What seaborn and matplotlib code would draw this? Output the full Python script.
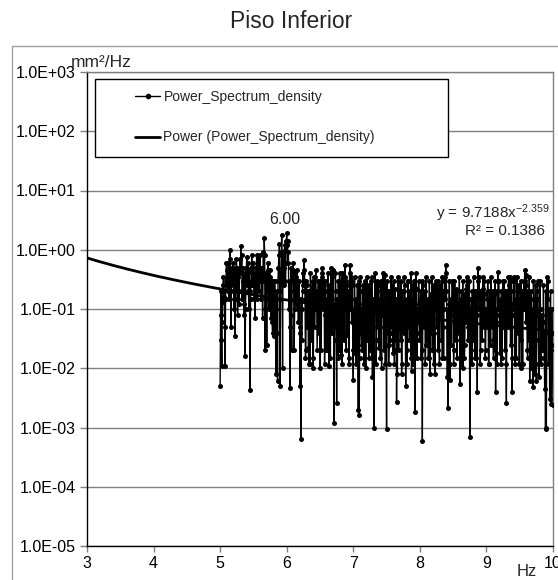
import numpy as np
import pandas as pd
import matplotlib
matplotlib.use("Agg")
import matplotlib.pyplot as plt
import seaborn as sns
from matplotlib.lines import Line2D
from matplotlib.patches import Rectangle
from matplotlib.ticker import FixedLocator, FuncFormatter, NullLocator

# ---------------- data ----------------
title = "Piso Inferior"
series_label = "Power_Spectrum_density"
trend_label = "Power (Power_Spectrum_density)"
y_unit = "mm²/Hz"
x_unit = "Hz"

freq_start = 5.0       # Hz
freq_step = 0.00625    # Hz (spectral resolution)

# PSD values on the even bins (5.0000, 5.0125, ... 10.0)
psd_even = [
    0.005, 0.2, 0.011, 0.13, 0.35, 0.16, 0.011, 0.3, 0.45, 0.2, 0.6, 0.35, 1.0, 0.05, 0.5, 0.25, 0.4, 0.15, 0.035, 0.3,
    0.5, 0.08, 0.45, 0.2, 0.7, 1.15, 0.8, 0.3, 0.2, 0.08, 0.016, 0.3, 0.75, 0.4, 0.2, 0.45, 0.0043, 0.25, 0.8, 0.5,
    0.6, 0.15, 0.07, 0.25, 0.8, 0.35, 0.6, 0.2, 0.8, 0.5, 0.3, 0.07, 0.9, 1.6, 0.02, 0.4, 0.025, 0.3, 0.45, 0.2,
    0.35, 0.07, 0.25, 0.04, 0.3, 0.035, 0.15, 0.008, 0.2, 0.006, 0.5, 1.25, 0.005, 0.4, 1.8, 0.01, 0.8, 0.5, 1.2, 0.6,
    1.9, 1.4, 0.9, 0.3, 0.0046, 0.5, 0.02, 0.3, 0.45, 0.02, 0.25, 0.12, 0.45, 0.1, 0.06, 0.3, 0.005, 0.00063, 0.03, 0.2,
    0.25, 0.68, 0.15, 0.02, 0.25, 0.1, 0.022, 0.2, 0.012, 0.15, 0.06, 0.3, 0.01, 0.35, 0.12, 0.45, 0.2, 0.05, 0.3, 0.1,
    0.01, 0.25, 0.4, 0.5, 0.15, 0.3, 0.08, 0.2, 0.04, 0.02, 0.15, 0.011, 0.1, 0.5, 0.35, 0.15, 0.05, 0.0012, 0.08, 0.2,
    0.0026, 0.15, 0.3, 0.02, 0.12, 0.017, 0.4, 0.25, 0.35, 0.03, 0.55, 0.3, 0.15, 0.036, 0.2, 0.015, 0.55, 0.35, 0.06, 0.25,
    0.0063, 0.03, 0.018, 0.15, 0.04, 0.25, 0.002, 0.0016, 0.1, 0.2, 0.025, 0.02, 0.12, 0.015, 0.3, 0.01, 0.15, 0.03, 0.2, 0.25,
    0.1, 0.3, 0.015, 0.007, 0.15, 0.001, 0.4, 0.25, 0.03, 0.2, 0.1, 0.022, 0.15, 0.3, 0.01, 0.08, 0.2, 0.02, 0.37, 0.12,
    0.00095, 0.1, 0.2, 0.025, 0.15, 0.04, 0.1, 0.25, 0.018, 0.02, 0.22, 0.07, 0.0027, 0.008, 0.15, 0.05, 0.29, 0.03, 0.008, 0.2,
    0.1, 0.2, 0.25, 0.005, 0.15, 0.02, 0.3, 0.12, 0.2, 0.015, 0.009, 0.15, 0.25, 0.03, 0.0018, 0.1, 0.22, 0.04, 0.06, 0.12,
    0.04, 0.2, 0.02, 0.0006, 0.25, 0.15, 0.2, 0.025, 0.12, 0.03, 0.015, 0.08, 0.008, 0.18, 0.06, 0.02, 0.12, 0.25, 0.008, 0.3,
    0.15, 0.22, 0.02, 0.1, 0.25, 0.18, 0.03, 0.015, 0.2, 0.1, 0.35, 0.55, 0.2, 0.007, 0.0021, 0.12, 0.0063, 0.15, 0.025, 0.3,
    0.25, 0.02, 0.18, 0.03, 0.22, 0.2, 0.12, 0.04, 0.0055, 0.15, 0.2, 0.02, 0.01, 0.18, 0.025, 0.22, 0.06, 0.25, 0.03, 0.15,
    0.0007, 0.02, 0.15, 0.2, 0.03, 0.12, 0.015, 0.1, 0.2, 0.004, 0.5, 0.35, 0.2, 0.02, 0.15, 0.03, 0.22, 0.1, 0.18, 0.02,
    0.1, 0.15, 0.2, 0.012, 0.2, 0.025, 0.15, 0.1, 0.03, 0.18, 0.02, 0.004, 0.1, 0.2, 0.42, 0.3, 0.018, 0.15, 0.2, 0.015,
    0.12, 0.2, 0.02, 0.15, 0.0026, 0.2, 0.1, 0.25, 0.35, 0.025, 0.2, 0.004, 0.12, 0.35, 0.3, 0.15, 0.015, 0.2, 0.04, 0.25,
    0.15, 0.03, 0.01, 0.2, 0.12, 0.3, 0.45, 0.25, 0.38, 0.02, 0.2, 0.03, 0.006, 0.01, 0.2, 0.05, 0.0048, 0.1, 0.008, 0.25,
    0.006, 0.2, 0.15, 0.007, 0.05, 0.1, 0.015, 0.08, 0.02, 0.06, 0.0045, 0.001, 0.00095, 0.35, 0.3, 0.04, 0.003, 0.2, 0.0025, 0.025,
    0.0024,
]

# PSD values on the odd bins (5.00625, 5.01875, ... 9.99375)
psd_odd = [
    0.08, 0.03, 0.06, 0.25, 0.2, 0.05, 0.15, 0.6, 0.25, 0.4, 0.15, 0.7, 0.3, 0.2, 0.3, 0.6, 0.1, 0.5, 0.15, 0.7,
    0.2, 0.35, 0.12, 0.5, 0.4, 0.5, 0.15, 0.5, 0.12, 0.4, 0.1, 0.5, 0.25, 0.6, 0.1, 0.2, 0.15, 0.5, 0.3, 0.25,
    0.3, 0.4, 0.3, 0.5, 0.15, 0.7, 0.4, 0.5, 0.3, 0.15, 0.5, 0.4, 0.3, 0.8, 0.1, 0.15, 0.2, 0.6, 0.1, 0.45,
    0.15, 0.3, 0.06, 0.2, 0.1, 0.3, 0.05, 0.1, 0.04, 0.3, 0.8, 0.2, 0.15, 0.9, 0.3, 0.5, 0.25, 1.0, 0.3, 1.4,
    1.2, 0.6, 0.1, 0.05, 0.2, 0.08, 0.4, 0.6, 0.15, 0.1, 0.4, 0.35, 0.2, 0.3, 0.15, 0.05, 0.04, 0.15, 0.1, 0.4,
    0.45, 0.3, 0.015, 0.3, 0.05, 0.2, 0.012, 0.06, 0.4, 0.03, 0.2, 0.015, 0.2, 0.05, 0.35, 0.1, 0.02, 0.15, 0.04, 0.3,
    0.15, 0.02, 0.35, 0.1, 0.25, 0.012, 0.3, 0.02, 0.15, 0.4, 0.04, 0.25, 0.015, 0.1, 0.04, 0.45, 0.12, 0.03, 0.4, 0.05,
    0.1, 0.015, 0.12, 0.4, 0.06, 0.2, 0.012, 0.04, 0.12, 0.35, 0.1, 0.02, 0.25, 0.1, 0.012, 0.4, 0.1, 0.15, 0.3, 0.02,
    0.1, 0.35, 0.06, 0.012, 0.12, 0.05, 0.3, 0.015, 0.35, 0.04, 0.1, 0.25, 0.012, 0.2, 0.06, 0.1, 0.35, 0.1, 0.015, 0.1,
    0.02, 0.08, 0.35, 0.05, 0.015, 0.12, 0.1, 0.012, 0.3, 0.05, 0.25, 0.1, 0.015, 0.1, 0.2, 0.4, 0.05, 0.15, 0.012, 0.025,
    0.3, 0.04, 0.012, 0.2, 0.03, 0.35, 0.05, 0.1, 0.3, 0.012, 0.03, 0.15, 0.03, 0.35, 0.02, 0.15, 0.1, 0.3, 0.012, 0.05,
    0.04, 0.35, 0.06, 0.1, 0.012, 0.3, 0.05, 0.03, 0.08, 0.4, 0.08, 0.012, 0.1, 0.3, 0.05, 0.4, 0.015, 0.1, 0.3, 0.03,
    0.12, 0.015, 0.3, 0.1, 0.05, 0.1, 0.012, 0.35, 0.06, 0.15, 0.015, 0.3, 0.1, 0.04, 0.35, 0.1, 0.012, 0.04, 0.15, 0.1,
    0.05, 0.3, 0.2, 0.012, 0.08, 0.1, 0.35, 0.05, 0.015, 0.3, 0.15, 0.4, 0.05, 0.1, 0.06, 0.3, 0.012, 0.08, 0.15, 0.1,
    0.012, 0.3, 0.08, 0.2, 0.015, 0.1, 0.05, 0.35, 0.06, 0.012, 0.1, 0.3, 0.08, 0.015, 0.15, 0.08, 0.35, 0.05, 0.1, 0.3,
    0.05, 0.1, 0.012, 0.1, 0.35, 0.05, 0.2, 0.015, 0.08, 0.3, 0.15, 0.1, 0.012, 0.2, 0.08, 0.35, 0.05, 0.3, 0.015, 0.1,
    0.05, 0.3, 0.012, 0.1, 0.1, 0.35, 0.05, 0.2, 0.015, 0.05, 0.3, 0.06, 0.012, 0.1, 0.3, 0.08, 0.1, 0.012, 0.06, 0.3,
    0.05, 0.3, 0.2, 0.012, 0.08, 0.05, 0.35, 0.06, 0.12, 0.3, 0.015, 0.08, 0.3, 0.1, 0.012, 0.05, 0.35, 0.08, 0.15, 0.012,
    0.05, 0.3, 0.15, 0.012, 0.2, 0.1, 0.3, 0.06, 0.15, 0.015, 0.05, 0.35, 0.04, 0.15, 0.012, 0.1, 0.3, 0.15, 0.1, 0.012,
    0.08, 0.3, 0.03, 0.1, 0.3, 0.012, 0.06, 0.02, 0.25, 0.015, 0.04, 0.2, 0.1, 0.15, 0.012, 0.1, 0.04, 0.02, 0.1, 0.04,
]

# Power-law trend line as printed on the chart
trend_coef = 9.7188
trend_exp = -2.359
r_squared = 0.1386
trend_range = [3.0, 10.0]

peak_label = "6.00"
peak_freq = 6.00
peak_value = 1.9

x_ticks = [3, 4, 5, 6, 7, 8, 9, 10]
y_ticks = [1e-5, 1e-4, 1e-3, 1e-2, 1e-1, 1e0, 1e1, 1e2, 1e3]

# ---------------- style ----------------
sns.set_theme(style="ticks")
plt.rcParams["font.family"] = ["Liberation Sans", "DejaVu Sans"]
plt.rcParams["mathtext.fontset"] = "custom"
plt.rcParams["mathtext.rm"] = "Liberation Sans"
plt.rcParams["mathtext.it"] = "Liberation Sans:italic"

W, H = 558, 580
fig = plt.figure(figsize=(W / 100, H / 100), dpi=100)
fig.patch.set_facecolor("white")

ax_l, ax_r, ax_t, ax_b = 87, 553, 72, 546
ax = fig.add_axes([ax_l / W, 1 - ax_b / H, (ax_r - ax_l) / W, (ax_b - ax_t) / H])
ax.set_facecolor("white")


def fx(px):
    return (px - ax_l) / (ax_r - ax_l)


def fy(py):
    return 1 - (py - ax_t) / (ax_b - ax_t)


n = len(psd_even) + len(psd_odd)
psd = np.empty(n)
psd[0::2] = psd_even
psd[1::2] = psd_odd
freq = freq_start + freq_step * np.arange(n)
df = pd.DataFrame({"freq": freq, "psd": psd})

sns.lineplot(data=df, x="freq", y="psd", ax=ax, color="black", lw=1.0,
             marker="o", markersize=3.6, markeredgewidth=0, estimator=None,
             sort=False, zorder=3)

tx = np.linspace(trend_range[0], trend_range[1], 300)
trend = pd.DataFrame({"freq": tx, "psd": trend_coef * tx ** trend_exp})
sns.lineplot(data=trend, x="freq", y="psd", ax=ax, color="black", lw=2.0,
             estimator=None, sort=False, zorder=4)

ax.set_yscale("log")
ax.set_xlim(3, 10)
ax.set_ylim(1e-5, 1e3)
ax.yaxis.set_major_locator(FixedLocator(y_ticks))
ax.yaxis.set_minor_locator(NullLocator())
ax.yaxis.set_major_formatter(FuncFormatter(lambda v, p: f"{v:.1E}"))
ax.xaxis.set_major_locator(FixedLocator(x_ticks))
ax.set_xlabel("")
ax.set_ylabel("")

ax.yaxis.grid(True, color="#808080", lw=1.0)
ax.xaxis.grid(False)
ax.set_axisbelow(True)

for s in ["left", "bottom"]:
    ax.spines[s].set_color("black")
    ax.spines[s].set_linewidth(1.0)
for s in ["top", "right"]:
    ax.spines[s].set_visible(True)
    ax.spines[s].set_color("#808080")
    ax.spines[s].set_linewidth(1.0)

ax.tick_params(axis="y", which="major", left=True, direction="out", length=5,
               width=1, color="#808080", labelsize=11.5, pad=3, labelcolor="black")
ax.tick_params(axis="x", which="major", bottom=True, direction="out", length=4,
               width=1, color="#808080", labelsize=11.5, pad=3, labelcolor="black")

# legend frame + legend
ax.add_patch(Rectangle((fx(95), fy(157)), fx(448) - fx(95), fy(79) - fy(157),
                       transform=ax.transAxes, facecolor="white", edgecolor="black",
                       lw=1.0, zorder=5))
handles = [Line2D([], [], color="black", lw=1.0, marker="o", markersize=4, markeredgewidth=0),
           Line2D([], [], color="black", lw=2.0)]
leg = ax.legend(handles, [series_label, trend_label], loc="upper left",
                bbox_to_anchor=(fx(135), fy(90)),
                frameon=False, fontsize=10, handlelength=1.8, handletextpad=0.25,
                labelspacing=1.9, borderpad=0, borderaxespad=0)
leg.set_zorder(6)

# annotations
ax.annotate(peak_label, xy=(peak_freq, peak_value), xytext=(-2, 14),
            textcoords="offset pixels", ha="center", va="center", fontsize=11.5, zorder=7)
ax.text(fx(550), fy(213), "y = 9.7188x$^{\\mathregular{-2.359}}$", transform=ax.transAxes,
        ha="right", va="center", fontsize=11, zorder=7)
ax.text(fx(505), fy(231), f"R² = {r_squared}", transform=ax.transAxes,
        ha="center", va="center", fontsize=11, zorder=7)

# figure texts
fig.text(291 / W, 1 - 22 / H, title, ha="center", va="center", fontsize=16.5)
fig.text(71 / W, 1 - 67 / H, y_unit, ha="left", va="baseline", fontsize=12.5)
fig.text(527 / W, 1 - 572 / H, x_unit, ha="center", va="center", fontsize=12)

# outer chart frame
fig.add_artist(Rectangle((12 / W, -0.05), 1.0, 0.05 + 1 - 46 / H,
                         transform=fig.transFigure, fill=False,
                         edgecolor="#a0a0a0", lw=1.0))

fig.savefig("out.png", dpi=100)
